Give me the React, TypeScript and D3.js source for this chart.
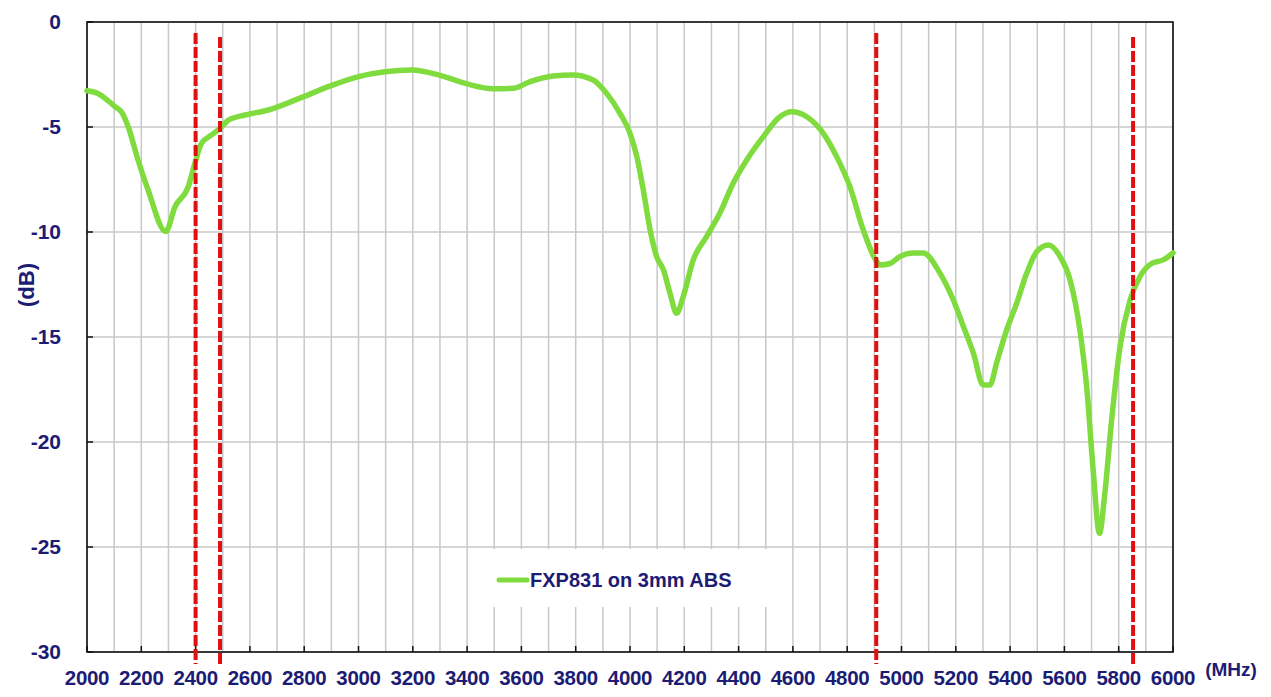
import React from 'react';
import * as d3 from 'd3';

const freqMHz = [
  2000, 2040, 2103, 2128, 2152, 2188, 2225, 2290, 2324, 2373, 2398, 2422, 2459, 2490,
  2521, 2582, 2668, 2791, 2889, 3000, 3098, 3196, 3294, 3400, 3495, 3569, 3632, 3717,
  3790, 3864, 3914, 3963, 4000, 4025, 4049, 4074, 4098, 4123, 4147, 4172, 4196, 4233,
  4282, 4331, 4380, 4430, 4491, 4552, 4595, 4651, 4712, 4761, 4810, 4859, 4905, 4921,
  4958, 4994, 5043, 5080, 5142, 5191, 5228, 5265, 5301, 5326, 5350, 5387, 5424, 5461,
  5498, 5541, 5584, 5621, 5657, 5682, 5706, 5729, 5749, 5774, 5805, 5842, 5878, 5921,
  5964, 6000,
];
const dB = [
  -3.27, -3.4, -4.03, -4.3, -5.0, -6.57, -8.0, -9.98, -8.8, -7.84, -6.7, -5.77, -5.38, -5.06,
  -4.67, -4.43, -4.19, -3.59, -3.08, -2.6, -2.37, -2.29, -2.52, -2.95, -3.18, -3.16, -2.84, -2.57,
  -2.52, -2.76, -3.4, -4.35, -5.3, -6.4, -8.0, -9.9, -11.17, -11.8, -12.9, -13.87, -13.08, -11.33,
  -10.22, -9.1, -7.68, -6.57, -5.46, -4.51, -4.27, -4.51, -5.3, -6.41, -7.84, -9.9, -11.33, -11.57,
  -11.5, -11.17, -11.0, -11.0, -11.97, -13.24, -14.5, -15.78, -17.29, -17.29, -16.25, -14.67, -13.4, -11.97,
  -10.94, -10.62, -11.17, -12.29, -14.67, -17.37, -21.33, -24.35, -22.44, -18.95, -15.46, -13.24, -12.13, -11.5,
  -11.33, -11.0,
];

// band edges (MHz), as placed in the picture
const markers = [2400, 2490, 4907, 5853];
const markerTop = [33, 37, 33, 37];

const xTicks = d3.range(2000, 6001, 200);
const xGrid = d3.range(2000, 6001, 100);
const yTicks = [0, -5, -10, -15, -20, -25, -30];

const seriesName = 'FXP831 on 3mm ABS';

const navy = '#1c1c74';
const green = '#80dc3e';
const red = '#e01010';

export default function App() {
  const W = 1271;
  const H = 697;
  const left = 87, right = 1173, top = 22, bottom = 652;

  const x = d3.scaleLinear().domain([2000, 6000]).range([left, right]);
  const y = d3.scaleLinear().domain([-30, 0]).range([bottom, top]);

  const pts = freqMHz.map((f, i) => [f, dB[i]] as [number, number]);
  const line = d3.line<[number, number]>()
    .x(d => x(d[0]))
    .y(d => y(d[1]))
    .curve(d3.curveMonotoneX);

  const font = 'Arial, "Liberation Sans", sans-serif';

  return (
    <div style={{ position: 'fixed', left: 0, top: 0, width: W, height: H, background: '#fff' }}>
      <svg width={W} height={H} style={{ display: 'block', fontFamily: font }}>
        <rect width={W} height={H} fill="#fff" />

        {/* grid */}
        {xGrid.map(f => (
          <line key={'gx' + f} x1={x(f)} x2={x(f)} y1={top} y2={bottom} stroke="#c8c8c8" strokeWidth={1.5} />
        ))}
        {yTicks.map(v => (
          <line key={'gy' + v} x1={left} x2={right} y1={y(v)} y2={y(v)} stroke="#c8c8c8" strokeWidth={1.5} />
        ))}

        {/* legend box hides the grid */}
        <rect x={470} y={549} width={315} height={58} fill="#fff" />

        {/* frame */}
        <rect x={left} y={top} width={right - left} height={bottom - top} fill="none" stroke="#111" strokeWidth={1.6} />
        {yTicks.map(v => (
          <line key={'ty' + v} x1={left} x2={left + 6} y1={y(v)} y2={y(v)} stroke="#111" strokeWidth={1.5} />
        ))}
        {xTicks.map(f => (
          <line key={'tx' + f} x1={x(f)} x2={x(f)} y1={bottom} y2={bottom - 6} stroke="#111" strokeWidth={1.5} />
        ))}

        {/* curve */}
        <path d={line(pts) || ''} fill="none" stroke={green} strokeWidth={5.5} strokeLinejoin="round" strokeLinecap="round" />

        {/* band markers */}
        {markers.map((f, i) => (
          <line key={'m' + f} x1={x(f)} x2={x(f)} y1={markerTop[i]} y2={664} stroke={red} strokeWidth={4} strokeDasharray="11,3" />
        ))}

        {/* legend */}
        <line x1={499} x2={527} y1={580} y2={580} stroke={green} strokeWidth={5} strokeLinecap="round" />
        <text x={530} y={587} fill={navy} fontSize={20} fontWeight="bold">{seriesName}</text>

        {/* y tick labels */}
        {yTicks.map(v => (
          <text key={'ly' + v} x={61} y={y(v)} dy="0.35em" textAnchor="end" fill={navy} fontSize={21} fontWeight="bold">{v}</text>
        ))}
        {/* x tick labels */}
        {xTicks.map(f => (
          <text key={'lx' + f} x={x(f)} y={685} textAnchor="middle" fill={navy} fontSize={20.5} fontWeight="bold" letterSpacing={-0.3}>{f}</text>
        ))}

        <text x={1231} y={676} textAnchor="middle" fill={navy} fontSize={19} fontWeight="bold">(MHz)</text>
        <text transform="translate(34,285) rotate(-90)" textAnchor="middle" fill={navy} fontSize={22} fontWeight="bold">(dB)</text>
      </svg>
    </div>
  );
}
